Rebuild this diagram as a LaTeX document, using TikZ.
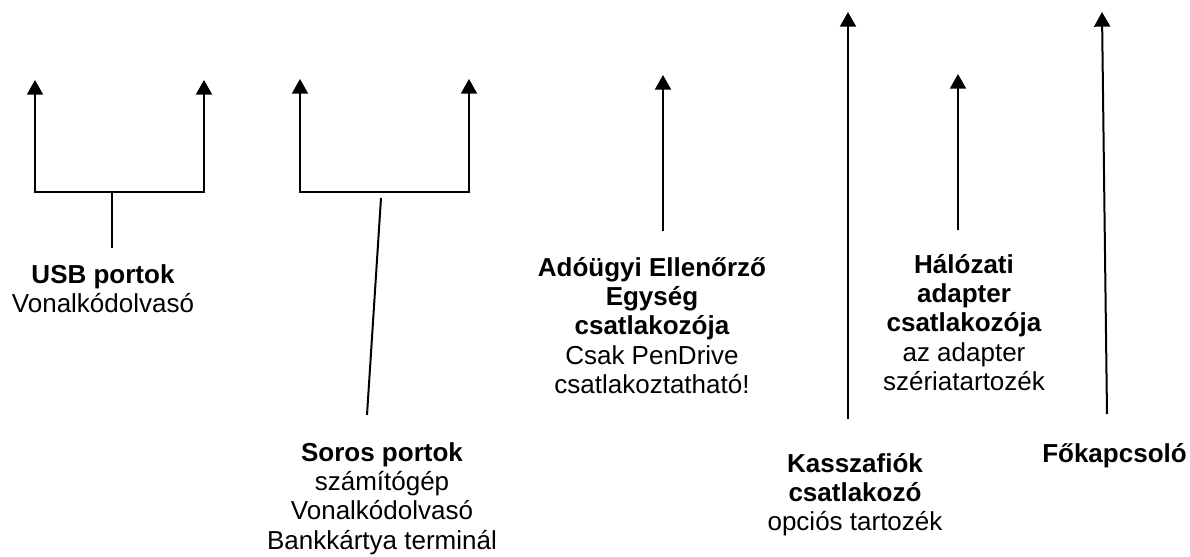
\documentclass[tikz,border=0pt]{standalone}
\usepackage{fontspec}
\setmainfont{Liberation Sans}
\usetikzlibrary{arrows.meta}
\newcommand\topstrut{\rule{0pt}{20pt}}
\begin{document}
\begin{tikzpicture}[x=0.75pt,y=-0.75pt,
  line width=1.5pt,
  tip/.style={-{Triangle[width=12pt,length=11pt]}},
  twotips/.style={{Triangle[width=12pt,length=11pt]}-{Triangle[width=12pt,length=11pt]}},
  lbl/.style={anchor=north,inner sep=0pt,align=center,yshift=20pt,
    font=\fontsize{19.5}{22}\selectfont}]
\useasboundingbox (0,0) rectangle (1190,557);

% labels
\node[lbl] (usb) at (103,282) {\topstrut\textbf{USB portok}\\Vonalkódolvasó};
\node[lbl] (soros) at (382,460) {\topstrut\textbf{Soros portok}\\számítógép\\Vonalkódolvasó\\Bankkártya terminál};
\node[lbl] (aeu) at (652,275) {\topstrut\textbf{Adóügyi Ellenőrző}\\\textbf{Egység}\\\textbf{csatlakozója}\\Csak PenDrive\\csatlakoztatható!};
\node[lbl] (halo) at (964,272) {\topstrut\textbf{Hálózati}\\\textbf{adapter}\\\textbf{csatlakozója}\\az adapter\\szériatartozék};
\node[lbl] (kassza) at (855,471) {\topstrut\textbf{Kasszafiók}\\\textbf{csatlakozó}\\opciós tartozék};
\node[lbl] (fokap) at (1114.5,461) {\topstrut\textbf{Főkapcsoló}};

% coordinates
\coordinate (usbL) at (35,80);
\coordinate (usbR) at (204,80);
\coordinate (usbJ) at (112,192);
\coordinate (usbS) at (112,248);
\coordinate (sorL) at (300,79);
\coordinate (sorR) at (469,79);
\coordinate (sorJ) at (384,192);
\coordinate (sorA) at (381,198);
\coordinate (sorS) at (367,415);
\coordinate (aeuT) at (663,75);
\coordinate (aeuB) at (663,231);
\coordinate (kasT) at (848,12);
\coordinate (kasB) at (848,419);
\coordinate (halT) at (958,74);
\coordinate (halB) at (958,230);
\coordinate (fokT) at (1102,12);
\coordinate (fokB) at (1107,414);

% connectors
\draw[twotips] (usbL) |- (usbJ) -| (usbR);
\draw (usbS) -- (usbJ);
\draw[twotips] (sorL) |- (sorJ) -| (sorR);
\draw (sorS) -- (sorA);
\draw[tip] (aeuB) -- (aeuT);
\draw[tip] (kasB) -- (kasT);
\draw[tip] (halB) -- (halT);
\draw[tip] (fokB) -- (fokT);
\end{tikzpicture}
\end{document}
